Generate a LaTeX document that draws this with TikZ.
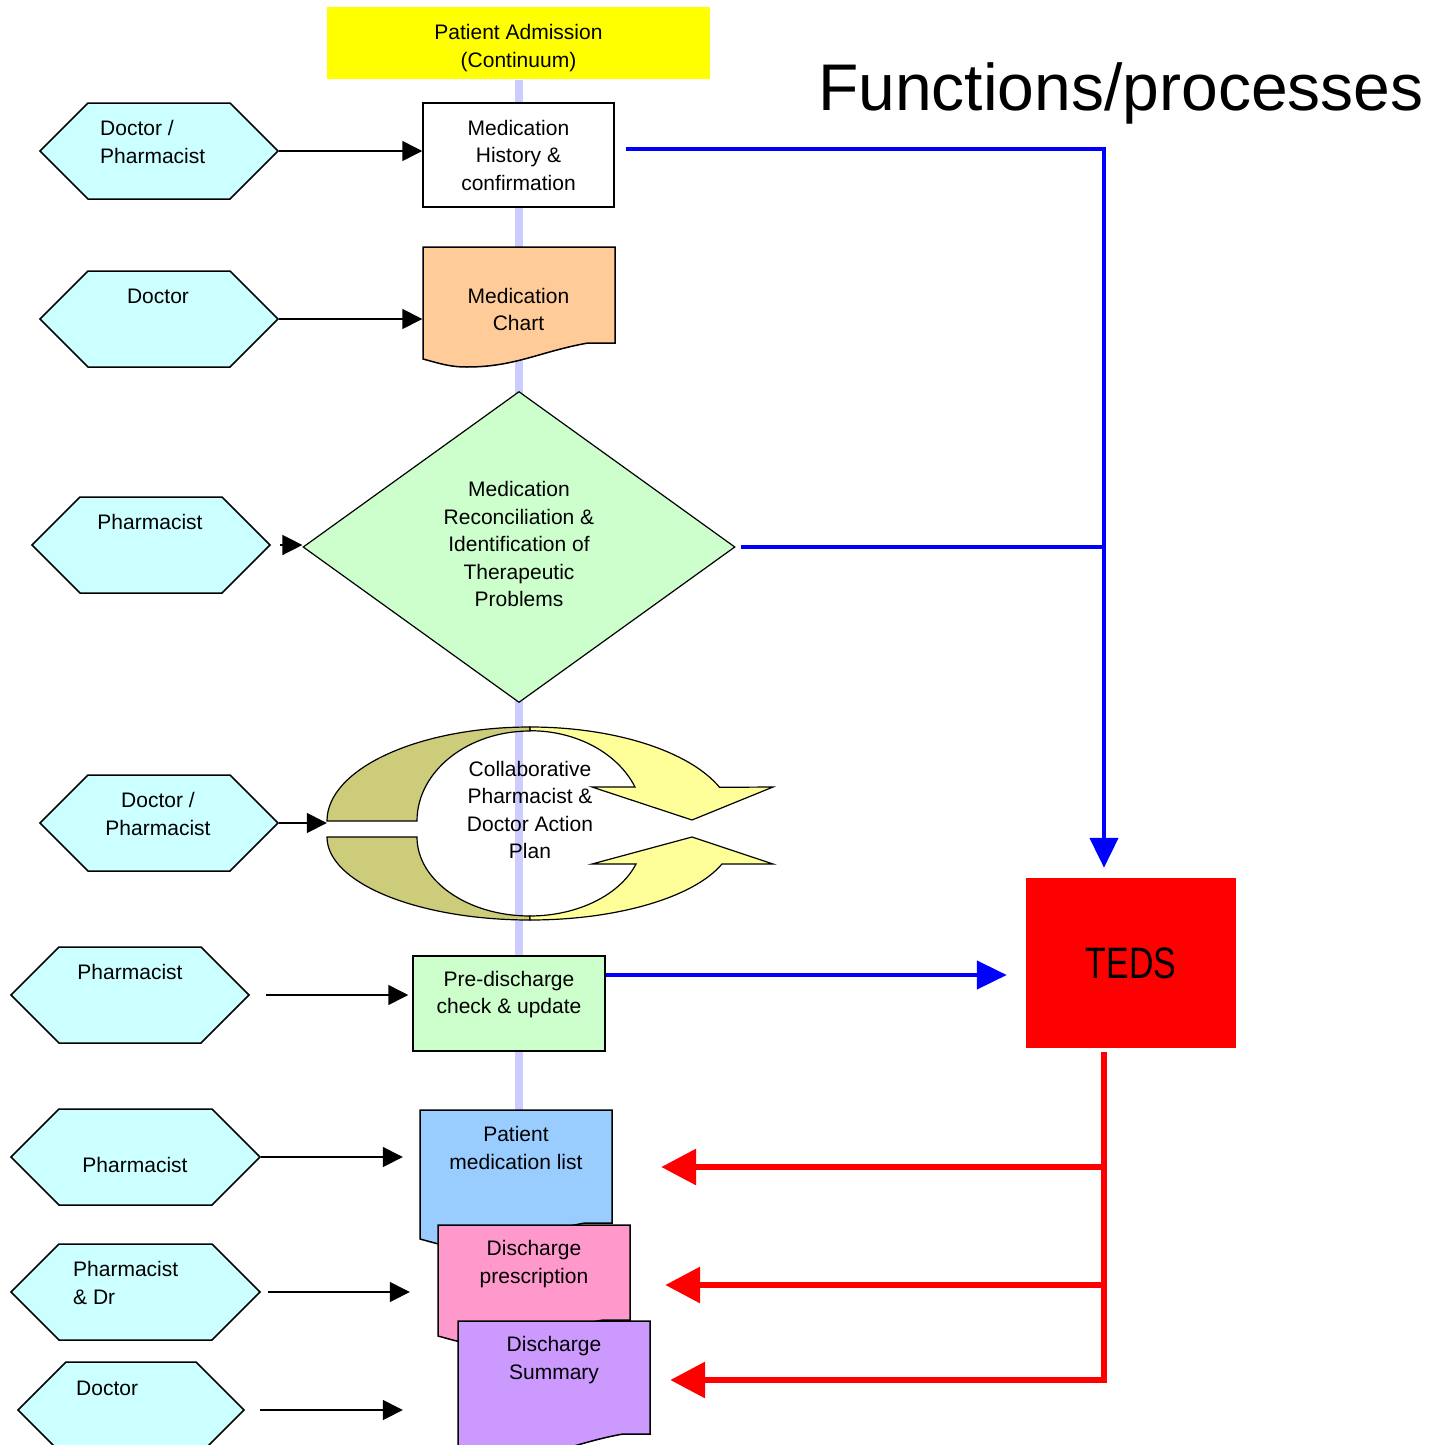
\documentclass[tikz,border=0pt]{standalone}
\usepackage{fontspec}
\setmainfont{Liberation Sans}
\usepackage{graphicx}
\usetikzlibrary{calc,arrows.meta,shapes.geometric,shapes.symbols}
\definecolor{hexc}{HTML}{CCFFFF}
\definecolor{admc}{HTML}{FFFF00}
\definecolor{chartc}{HTML}{FFCC99}
\definecolor{listc}{HTML}{99CCFF}
\definecolor{rxc}{HTML}{FF99CC}
\definecolor{sumc}{HTML}{CC99FF}
\definecolor{greenc}{HTML}{CCFFCC}
\definecolor{spinec}{HTML}{CCCCFF}
\definecolor{cyco}{HTML}{CCCC7A}
\definecolor{cycy}{HTML}{FFFF99}
\def\lineThickness{(1.5pt)}
\def\fScale{\fontsize{21}{27.5}\selectfont}
\tikzset{hexa/.style={signal,signal to=east and west,signal pointer angle=90,draw=black,line width=\lineThickness,fill=hexc,minimum width=238pt,minimum height=96pt,inner sep=0}}
\tikzset{txt/.style={font=\fScale,align=left,inner sep=0}}
\tikzset{ctxt/.style={font=\fScale,align=center,inner sep=0}}
\tikzset{box/.style={draw=black,line width=\lineThickness,font=\fScale,align=center,inner sep=0}}
\tikzset{doc/.style={draw=black,line width=\lineThickness,line join=miter}}
\tikzset{cyc/.style={draw=black,line width=1.2pt,line join=miter}}
\tikzset{spine/.style={spinec,line width=8pt}}
\tikzset{blk/.style={black,line width=\lineThickness,-{Triangle[length=20pt,width=20pt]}}}
\tikzset{bline/.style={blue,line width=4.5pt,line join=miter}}
\tikzset{bln/.style={bline,-{Triangle[length=30pt,width=28pt]}}}
\tikzset{rln/.style={red,line width=6.5pt,line join=miter,-{Triangle[length=35pt,width=35pt]}}}
\newcommand{\docu}[3]{\draw[doc,fill=#3] #1 -- ++(192,0) -- ++(0,#2) -- ++(-27,0) to[out=190,in=0] ++(-121,24) to[out=180,in=-15] ++(-44,-8) -- cycle;}

\begin{document}
\begin{tikzpicture}[x=1pt,y=-1pt]
\useasboundingbox (0,0) rectangle (1437,1445);
% centre line of the process
\node[box,draw=none,fill=admc,minimum width=383pt,minimum height=72pt] (admit) at (518.5,43) {};
\node[ctxt] (admittxt) at (518.5,48) {Patient Admission\\(Continuum)};
\coordinate (spineEnd) at (518.5,1110);
\draw[spine] (admit.south) -- (spineEnd);
\node[font=\fontsize{66}{70}\selectfont,anchor=base west,inner sep=0] (title) at (818,110) {Functions/processes};
% process steps
\node[box,fill=white,minimum width=191pt,minimum height=104pt] (medhist) at (518.5,155) {Medication\\History \&\\confirmation};
\docu{(423,247)}{96}{chartc}
\node[ctxt,minimum width=192pt] (chart) at (518.5,309.5) {Medication\\Chart};
\node[diamond,draw=black,line width=1.2pt,fill=greenc,minimum width=432pt,minimum height=311pt,inner sep=0,font=\fScale,align=center,text depth=6pt] (recon) at (519,547) {Medication\\Reconciliation \&\\Identification of\\Therapeutic\\Problems};
\draw[cyc,fill=cyco] (327,821) arc[start angle=180,end angle=90,x radius=203pt,y radius=94pt] -- (530,731) arc[start angle=90,end angle=180,x radius=113pt,y radius=90pt] -- cycle;
\draw[cyc,fill=cycy] (530,727) arc[start angle=90,end angle=21,x radius=203pt,y radius=94pt] -- (773,787) -- (692,820) -- (592,787) -- (635,787) arc[start angle=22,end angle=90,x radius=113pt,y radius=90pt] -- cycle;
\draw[cyc,fill=cyco] (327,837) arc[start angle=180,end angle=270,x radius=203pt,y radius=83pt] -- (530,916) arc[start angle=270,end angle=180,x radius=113pt,y radius=79pt] -- cycle;
\draw[cyc,fill=cycy] (530,920) arc[start angle=270,end angle=341,x radius=203pt,y radius=83pt] -- (773,864) -- (692,837) -- (592,864) -- (636,864) arc[start angle=340,end angle=270,x radius=113pt,y radius=79pt] -- cycle;
\node[ctxt,minimum width=406pt] (plan) at (530,810) {Collaborative\\Pharmacist \&\\Doctor Action\\Plan};
\node[box,fill=greenc,minimum width=192pt,minimum height=95pt,text depth=22pt] (prechk) at (509,1003.5) {Pre-discharge\\check \& update};
\docu{(420,1110)}{113}{listc}
\node[ctxt,minimum width=192pt] (ptlist) at (516,1148) {Patient\\medication list};
\docu{(438,1225)}{95}{rxc}
\node[ctxt,minimum width=192pt] (rx) at (534,1264) {Discharge\\prescription};
\docu{(458,1321)}{113}{sumc}
\node[ctxt,minimum width=192pt] (sum) at (554,1360) {Discharge\\Summary};
\node[fill=red,minimum width=210pt,minimum height=170pt,inner sep=0,font=\fontsize{44}{50}\selectfont] (teds) at (1131,963) {\scalebox{0.77}[1]{TEDS}};
% who does it
\node[hexa] (hexA) at (159,151) {};
\node[txt,anchor=west] (hexAtxt) at (100,142) {Doctor /\\Pharmacist};
\node[hexa] (hexB) at (159,319) {};
\node[ctxt] (hexBtxt) at (158,296) {Doctor};
\node[hexa] (hexC) at (151,545) {};
\node[ctxt] (hexCtxt) at (150,522) {Pharmacist};
\node[hexa] (hexD) at (159,823) {};
\node[ctxt] (hexDtxt) at (158,814) {Doctor /\\Pharmacist};
\node[hexa] (hexE) at (130,995) {};
\node[ctxt] (hexEtxt) at (130,972) {Pharmacist};
\node[hexa,minimum width=249pt] (hexF) at (135.5,1157) {};
\node[ctxt] (hexFtxt) at (135,1165) {Pharmacist};
\node[hexa,minimum width=249pt] (hexG) at (135.5,1292) {};
\node[txt,anchor=west] (hexGtxt) at (73,1283) {Pharmacist\\\& Dr};
\node[hexa,minimum width=226pt] (hexH) at (131,1410) {};
\node[txt,anchor=west] (hexHtxt) at (76,1388) {Doctor};
\draw[blk] (hexA.east) -- (hexA.east -| medhist.west);
\draw[blk] (hexB.east) -- (hexB.east -| chart.west);
\draw[blk,shorten <=9pt] (hexC.east) -- (hexC.east -| recon.west);
\draw[blk] (hexD.east) -- (hexD.east -| plan.west);
\draw[blk,shorten <=16pt,shorten >=4pt] (hexE.east) -- (hexE.east -| prechk.west);
\draw[blk,shorten >=17pt] (hexF.east) -- (hexF.east -| ptlist.west);
\draw[blk,shorten <=7pt,shorten >=28pt] (hexG.east) -- (hexG.east -| rx.west);
\draw[blk,shorten <=15pt,shorten >=55pt] (hexH.east) -- (hexH.east -| sum.west);
% data to and from TEDS
\coordinate (bus) at (1104,149);
\draw[bln,shorten >=10pt] ([shift={(11pt,6pt)}]medhist.east) -- (bus) -- (bus |- teds.north);
\draw[bline] ([xshift=5pt]recon.east) -- (recon.east -| bus);
\draw[bln,shorten >=19pt] ([yshift=28.5pt]prechk.east) -- ([yshift=28.5pt]prechk.east -| teds.west);
\coordinate (r1) at (1104,1167);\coordinate (r2) at (1104,1285);\coordinate (r3) at (1104,1380);
\draw[rln,shorten >=20pt] ([yshift=-4pt]teds.south -| r3) -- (r3) -- (r3 -| sum.east);
\draw[rln,shorten >=49pt] (r1) -- (r1 -| ptlist.east);
\draw[rln,shorten >=35pt] (r2) -- (r2 -| rx.east);
\end{tikzpicture}
\end{document}
